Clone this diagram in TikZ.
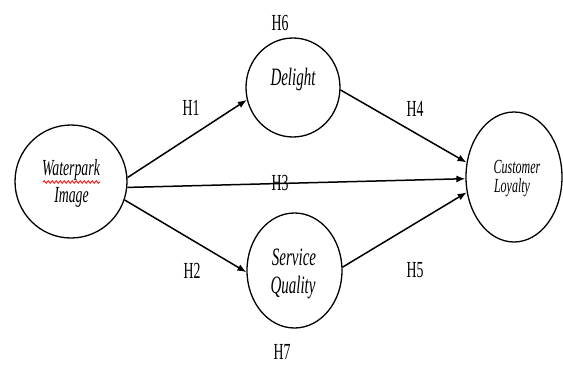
\documentclass[tikz,border=0pt]{standalone}
\usepackage{fontspec}
\setmainfont{Liberation Serif}
\newfontfamily\nf[FakeStretch=0.6]{Liberation Serif}
\usetikzlibrary{shapes.geometric,arrows.meta,decorations.pathmorphing}
\begin{document}
\begin{tikzpicture}[x=1pt,y=-1pt,
  circ/.style={draw,shape=ellipse,inner sep=0pt,line width=1.3pt},
  conn/.style={line width=1.5pt,-{Latex[length=9pt,width=7pt]}},
  hlab/.style={anchor=base,inner sep=0pt,font=\nf\fontsize{23}{24}\selectfont},
  itl/.style={anchor=base,inner sep=0pt,font=\nf\itshape\fontsize{#1}{#1}\selectfont},
]
\useasboundingbox (0,0) rectangle (563,365);
% circles
\node[circ,minimum width=112pt,minimum height=113pt] (W) at (71,181.5) {};
\node[circ,minimum width=94pt,minimum height=99pt] (D) at (293,87.5) {};
\node[circ,minimum width=95pt,minimum height=115pt] (S) at (294.5,270.5) {};
\node[circ,minimum width=96pt,minimum height=130pt] (C) at (514,177) {};
% circle texts
\node[itl=23] (wt1) at (71,175) {Waterpark};
\node[itl=23] (wt2) at (71.5,202) {Image};
\node[itl=25] (dt) at (293,85) {Delight};
\node[itl=25] (st1) at (294,265) {Service};
\node[itl=25] (st2) at (293,293) {Quality};
\node[itl=20] (ct1) at (517,173) {Customer};
\node[itl=20] (ct2) at (512,192) {Loyalty};
% spell-check squiggle
\draw[red,line width=0.8pt,decorate,decoration={snake,amplitude=1.3pt,segment length=4pt}] (43,182) -- (100,182);
% connectors
\draw[conn] (W.4) -- (D.195);
\draw[conn] (W.-6) -- (C.182);
\draw[conn] (W.-19) -- (S.182);
\draw[conn] (D.-3) -- (C.163);
\draw[conn] (S.4) -- (C.198);
% labels
\node[hlab] (h1) at (191,115) {H1};
\node[hlab] (h2) at (192,278) {H2};
\node[hlab] (h3) at (280,190) {H3};
\node[hlab] (h4) at (415,116) {H4};
\node[hlab] (h5) at (415,277) {H5};
\node[hlab] (h6) at (280,30) {H6};
\node[hlab] (h7) at (282,359) {H7};
\end{tikzpicture}
\end{document}
